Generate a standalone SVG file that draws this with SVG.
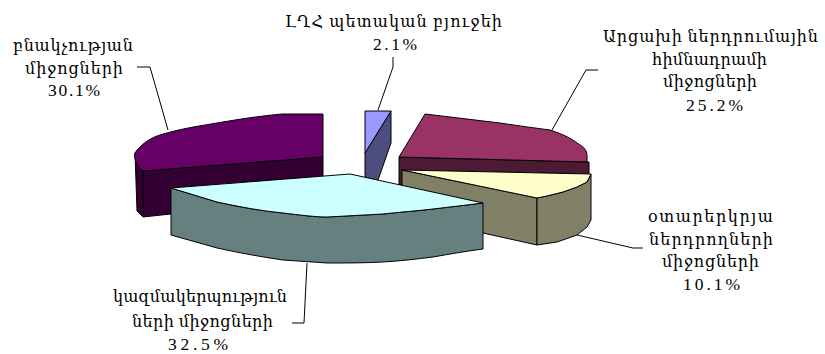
<svg xmlns="http://www.w3.org/2000/svg" width="825" height="354" viewBox="0 0 825 354">
<style>
  .f { stroke:#000; stroke-width:1; stroke-linejoin:round; }
  .lbl { font-family:"Liberation Serif","DejaVu Serif","Noto Sans",serif; font-size:16px; fill:#000; text-anchor:middle; }
  .num { font-size:17.5px; }
  .lead { fill:none; stroke:#000; stroke-width:1; }
</style>
<rect width="825" height="354" fill="#fff"/>

<g id="slice-population">
  <path class="f" fill="#330033" d="M135,153 L143,171 L323,157 L323,200 L171,214 L143,217 L137,211 Z"/>
  <path class="f" fill="#330033" d="M143,171 L143,217"/>
  <path class="f" fill="#660066" d="M323,114 L282,114 C260,116 240,119 217,123 C200,126 183,128 160,135 C150,138 140,145 135,153 C134,158 136,166 143,171 L323,157 Z"/>
</g>

<g id="slice-budget">
  <path class="f" fill="#4d4d80" d="M365,153 L391,111 L391,143 L378,180 L365,180 Z"/>
  <path class="f" fill="#9999ff" d="M365,111 L391,111 L365,153 Z"/>
</g>

<g id="slice-fund">
  <path class="f" fill="#4d1a33" d="M399,157 L589,162 L589,176 L399,185 Z"/>
  <path class="f" fill="#993366" d="M399,157 L425,114 C450,117 475,120 500,123 C520,126 535,128 550,130 C565,135 572,139 577,143 C584,147 587,150 587,156 L587,162 Z"/>
</g>

<g id="slice-foreign">
  <path class="f" fill="#808066" d="M402,170 L537,198 L537,245 L402,215 Z"/>
  <path class="f" fill="#808066" d="M537,198 L547,196 L563,192 L577,187 L587,182 L591,174 L591,220 L587,227 L577,235 L557,242 L537,245 Z"/>
  <path class="f" fill="#ffffcc" d="M402,170 L591,174 L589,178 L587,182 L577,187 L563,192 L547,196 L537,198 Z"/>
</g>

<g id="slice-organizations">
  <path class="f" fill="#668080" d="M171,188 L217,202 C240,207 262,211 283,213 C300,215 315,217 327,217 C346,216 365,215 383,214 C400,212 417,211 433,209 C450,207 467,205 483,203 L483,249 C467,251 450,254 433,257 C417,259 400,261 383,262 C365,263 346,263 327,263 C313,262 298,261 283,260 C262,257 240,253 217,248 C200,243 185,239 171,235 Z"/>
  <path class="f" fill="#ccffff" d="M171,188 L350,174 L483,203 C467,205 450,207 433,209 C417,211 400,212 383,214 C365,215 346,216 327,217 C315,217 300,215 283,213 C262,211 240,207 217,202 Z"/>
</g>

<g id="connectors">
  <polyline class="lead" points="137,67 150,67 168,130"/>
  <polyline class="lead" points="393,57 393,67 378,110"/>
  <polyline class="lead" points="598,70 586,70 552,130"/>
  <polyline class="lead" points="577,235 633,248 643,248"/>
  <polyline class="lead" points="307,263 304,323 292,323"/>
</g>

<g id="label-population" class="lbl">
  <text x="73" y="51" textLength="120" lengthAdjust="spacing">բնակչության</text>
  <text x="74" y="74" textLength="98" lengthAdjust="spacing">միջոցների</text>
  <text class="num" x="74" y="96" textLength="52" lengthAdjust="spacing">30.1%</text>
</g>

<g id="label-budget" class="lbl">
  <text x="393.5" y="27" textLength="217" lengthAdjust="spacing">ԼՂՀ պետական բյուջեի</text>
  <text class="num" x="395" y="50" textLength="44" lengthAdjust="spacing">2.1%</text>
</g>

<g id="label-fund" class="lbl">
  <text x="710.5" y="42" textLength="215" lengthAdjust="spacing">Արցախի ներդրումային</text>
  <text x="709.5" y="65" textLength="115" lengthAdjust="spacing">հիմնադրամի</text>
  <text x="710" y="87" textLength="94" lengthAdjust="spacing">միջոցների</text>
  <text class="num" x="714.5" y="111" textLength="57" lengthAdjust="spacing">25.2%</text>
</g>

<g id="label-foreign" class="lbl">
  <text x="710.5" y="222" textLength="125" lengthAdjust="spacing">օտարերկրյա</text>
  <text x="711" y="245" textLength="124" lengthAdjust="spacing">ներդրողների</text>
  <text x="710.5" y="267" textLength="97" lengthAdjust="spacing">միջոցների</text>
  <text class="num" x="711.5" y="290" textLength="57" lengthAdjust="spacing">10.1%</text>
</g>

<g id="label-organizations" class="lbl">
  <text x="200" y="302" textLength="174" lengthAdjust="spacing">կազմակերպություն</text>
  <text x="202.5" y="327" textLength="141" lengthAdjust="spacing">ների միջոցների</text>
  <text class="num" x="198" y="350" textLength="60" lengthAdjust="spacing">32.5%</text>
</g>
</svg>
